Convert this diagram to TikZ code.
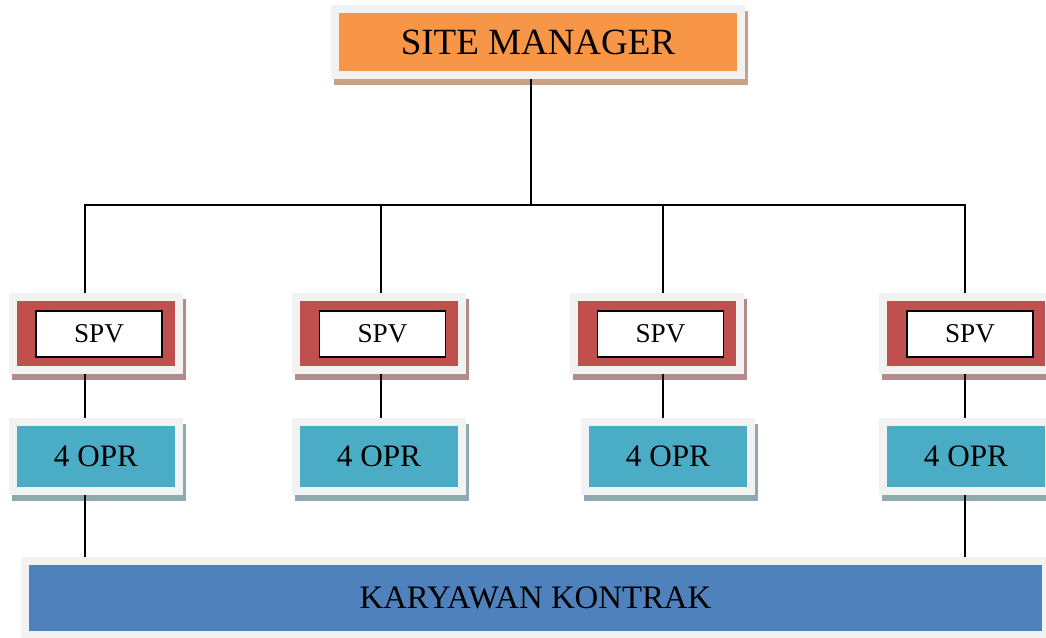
\documentclass[tikz,border=0pt]{standalone}
\usepackage{fontspec}
\setmainfont{Liberation Serif}
\usepackage{xcolor}
\definecolor{tilegray}{HTML}{F2F2F2}
\definecolor{mgrfill}{HTML}{F79646}
\definecolor{mgrshade}{HTML}{C9A184}
\definecolor{spvfill}{HTML}{C0504D}
\definecolor{spvshade}{HTML}{B38B8B}
\definecolor{oprfill}{HTML}{4BACC6}
\definecolor{oprshade}{HTML}{8FA9B0}
\definecolor{staffill}{HTML}{4F81BD}
\definecolor{staffshade}{HTML}{95A5B8}

\begin{document}
\begin{tikzpicture}[
  x=0.5pt, y=-0.5pt,
  tile/.style={draw=tilegray, line width=4pt, inner sep=0pt, align=center,
    preaction={draw=#1, fill=#1, transform canvas={shift={(1.5pt,-2.75pt)}}}},
  mgr/.style={tile=mgrshade, fill=mgrfill, minimum width=203pt, minimum height=33pt,
    font=\fontsize{18.5}{20}\selectfont},
  spv/.style={tile=spvshade, fill=spvfill, minimum width=83pt, minimum height=36.5pt},
  spvin/.style={draw=black, line width=0.6pt, fill=white, minimum width=63pt, minimum height=23pt,
    inner sep=0pt, font=\fontsize{13.6}{15}\selectfont},
  opr/.style={tile=oprshade, fill=oprfill, minimum width=83pt, minimum height=34.5pt,
    font=\fontsize{15.6}{17}\selectfont},
  staff/.style={tile=staffshade, fill=staffill, minimum width=510.5pt, minimum height=37pt,
    font=\fontsize{16.4}{18}\selectfont},
  link/.style={draw=black, line width=1pt},
]
\clip (0,0) rectangle (1046,638);
\fill[white] (0,0) rectangle (1046,638);

% top
\node[mgr] (mgr) at (538,42) {SITE MANAGER};

% supervisors
\node[spv] (spv1) at (96,333.5) {};
\node[spv] (spv2) at (379,333.5) {};
\node[spv] (spv3) at (657,333.5) {};
\node[spv] (spv4) at (966,333.5) {};
\node[spvin] (spvin1) at (99,334) {SPV};
\node[spvin] (spvin2) at (382.5,334) {SPV};
\node[spvin] (spvin3) at (660.5,334) {SPV};
\node[spvin] (spvin4) at (970,334) {SPV};

% operators
\node[opr] (opr1) at (96,456.5) {4 OPR};
\node[opr] (opr2) at (379,456.5) {4 OPR};
\node[opr] (opr3) at (668,456.5) {4 OPR};
\node[opr] (opr4) at (966,456.5) {4 OPR};

% bottom
\node[staff] (staff) at (535.5,598) {KARYAWAN KONTRAK};

% tree lines
\coordinate (hub) at (531,205);
\coordinate (b1) at (85,205);
\coordinate (b2) at (381,205);
\coordinate (b3) at (663,205);
\coordinate (b4) at (965,205);
\draw[link] (mgr.south -| hub) -- (hub);
\draw[link] (b1 |- spv1.north) -- (b1) -- (b4) -- (b4 |- spv4.north);
\draw[link] (b2) -- (b2 |- spv2.north);
\draw[link] (b3) -- (b3 |- spv3.north);
\draw[link] (b1 |- spv1.south) -- (b1 |- opr1.north);
\draw[link] (b2 |- spv2.south) -- (b2 |- opr2.north);
\draw[link] (b3 |- spv3.south) -- (b3 |- opr3.north);
\draw[link] (b4 |- spv4.south) -- (b4 |- opr4.north);
\draw[link] (b1 |- opr1.south) -- (b1 |- staff.north);
\draw[link] (b4 |- opr4.south) -- (b4 |- staff.north);
\end{tikzpicture}
\end{document}
